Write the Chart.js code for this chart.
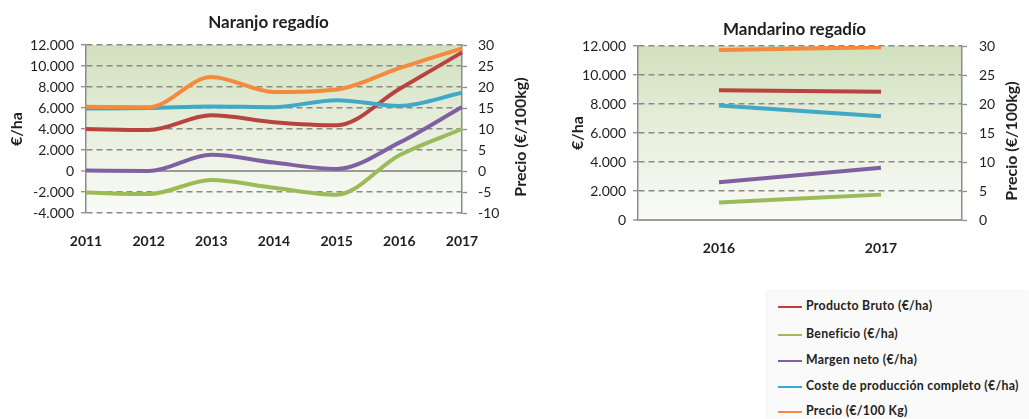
<!DOCTYPE html>
<html>
<head>
<meta charset="utf-8">
<script src="https://cdn.jsdelivr.net/npm/chart.js@4.4.1/dist/chart.umd.min.js"></script>
<style>
  html, body { margin: 0; padding: 0; background: #fff; width: 1029px; height: 419px; overflow: hidden; }
  #c1 { position: absolute; left: 0; top: 0; }
  #c2 { position: absolute; left: 540px; top: 0; }
  #legend {
    position: absolute; left: 768px; top: 292px; width: 261px; height: 127px;
    background: #fafafa; box-shadow: -1px -1px 3px rgba(0,0,0,0.07);
    font-family: Lato, sans-serif; font-weight: bold; font-size: 12.3px; letter-spacing: 0.3px; color: #222;
    overflow: hidden;
  }
  #legend .item { position: absolute; left: 10px; height: 16px; line-height: 16px; white-space: nowrap; }
  #legend .swatch { display: inline-block; width: 24px; height: 2px; vertical-align: middle; margin-right: 4px; }
</style>
</head>
<body>
<canvas id="c1" width="530" height="262"></canvas>
<canvas id="c2" width="489" height="270"></canvas>
<div id="legend"></div>
<script>
// Series names and colours (shared by both panels and the legend)
const seriesNames = [
  'Producto Bruto (€/ha)',
  'Beneficio (€/ha)',
  'Margen neto (€/ha)',
  'Coste de producción completo (€/ha)',
  'Precio (€/100 Kg)'
];
const seriesColors = ['#b8433f', '#9bbb59', '#7f61a3', '#3fa9c7', '#f58a3c'];

// Naranjo regadío
const naranjoYears     = ['2011', '2012', '2013', '2014', '2015', '2016', '2017'];
const naranjoProducto  = [4000, 3900, 5300, 4650, 4350, 7800, 11300];
const naranjoBeneficio = [-2050, -2200, -850, -1600, -2250, 1500, 4000];
const naranjoMargen    = [50, 0, 1550, 800, 200, 2700, 6100];
const naranjoCoste     = [5950, 6000, 6150, 6080, 6750, 6200, 7450];
const naranjoPrecio    = [15.3, 15.2, 22.4, 18.8, 19.4, 24.5, 29.2];

// Mandarino regadío
const mandarinoYears     = ['2016', '2017'];
const mandarinoProducto  = [8950, 8850];
const mandarinoBeneficio = [1200, 1750];
const mandarinoMargen    = [2600, 3600];
const mandarinoCoste     = [7900, 7150];
const mandarinoPrecio    = [29.3, 29.8];

const FONT = 'Lato';
const TEXT = '#1e1e1e';
const AXIS = '#8c8c8c';
const PRICE_TITLE = 'Precio (€/100kg)';

function thousands(v) {
  const s = Math.abs(v).toString().replace(/\B(?=(\d{3})+(?!\d))/g, '.');
  return (v < 0 ? '-' : '') + s;
}

// Green-to-white gradient behind the plot area
const plotBackground = {
  id: 'plotBackground',
  beforeDraw(chart) {
    const { ctx, chartArea: a } = chart;
    const g = ctx.createLinearGradient(0, a.top, 0, a.bottom);
    g.addColorStop(0, '#d1e0bd');
    g.addColorStop(0.5, '#e8efdd');
    g.addColorStop(1, '#fafbf7');
    ctx.save();
    ctx.fillStyle = g;
    ctx.fillRect(a.left, a.top, a.width, a.height);
    ctx.restore();
  }
};

// Right-axis title, written bottom-to-top along the secondary axis
const priceAxisTitle = {
  id: 'priceAxisTitle',
  afterDraw(chart) {
    const s = chart.scales.y1;
    const a = chart.chartArea;
    const ctx = chart.ctx;
    ctx.save();
    ctx.font = 'bold 16px ' + FONT;
    ctx.fillStyle = TEXT;
    ctx.textAlign = 'center';
    ctx.textBaseline = 'middle';
    ctx.translate(s.right - 9, (a.top + a.bottom) / 2 + 8);
    ctx.rotate(-Math.PI / 2);
    ctx.fillText(PRICE_TITLE, 0, 0);
    ctx.restore();
  }
};

function makePanel(canvas, p) {
  const values = [p.producto, p.beneficio, p.margen, p.coste, p.precio];
  const datasets = values.map((data, i) => ({
    label: seriesNames[i],
    data: data,
    yAxisID: i === 4 ? 'y1' : 'y',
    borderColor: seriesColors[i],
    backgroundColor: seriesColors[i],
    borderWidth: 4,
    pointRadius: 0,
    cubicInterpolationMode: 'monotone',
    fill: false,
    order: 5 - i
  }));

  return new Chart(canvas, {
    type: 'line',
    data: { labels: p.labels, datasets: datasets },
    plugins: [plotBackground, priceAxisTitle],
    options: {
      responsive: false,
      animation: false,
      events: [],
      layout: { padding: p.padding },
      plugins: {
        legend: { display: false },
        tooltip: { enabled: false },
        title: {
          display: true,
          text: p.title,
          color: TEXT,
          font: { family: FONT, size: 17, weight: 'bold' },
          padding: p.titlePadding
        }
      },
      scales: {
        x: {
          type: 'category',
          offset: p.offset,
          grid: { display: false, drawTicks: false },
          border: { display: false },
          ticks: {
            color: TEXT, padding: p.xPad, maxRotation: 0,
            font: { family: FONT, size: 14, weight: 'bold' }
          },
          afterFit: s => { s.height = p.xHeight; }
        },
        y: {
          position: 'left',
          min: p.yMin, max: p.yMax,
          ticks: {
            stepSize: 2000, color: TEXT, padding: 7,
            font: { family: FONT, size: 14 },
            callback: v => thousands(v)
          },
          grid: {
            color: ctx => (ctx.tick && ctx.tick.value === 0) ? '#9a9a9a' : '#8a8a8a',
            lineWidth: ctx => (ctx.tick && ctx.tick.value === 0) ? 2 : 1.4,
            drawTicks: true, tickLength: 5, tickColor: AXIS, tickWidth: 1.3,
            tickBorderDash: []
          },
          border: {
            display: true, color: AXIS, width: 1.5,
            dash: ctx => (ctx.tick && ctx.tick.value === 0) ? [] : [6, 4]
          },
          title: {
            display: true, text: '€/ha', color: TEXT,
            font: { family: FONT, size: 16, weight: 'bold' },
            padding: { top: 0, bottom: 0 }
          },
          afterFit: s => { s.width = p.yWidth; }
        },
        y1: {
          position: 'right',
          min: p.y1Min, max: p.y1Max,
          ticks: {
            stepSize: 5, color: TEXT, padding: p.y1Pad,
            font: { family: FONT, size: 14 }
          },
          grid: {
            drawOnChartArea: false, drawTicks: true, tickLength: 5,
            tickColor: AXIS, tickWidth: 1.3, color: AXIS
          },
          border: { display: true, color: AXIS, width: 1.5 },
          title: { display: false },
          afterFit: s => { s.width = p.y1Width; }
        }
      }
    }
  });
}

makePanel(document.getElementById('c1'), {
  title: 'Naranjo regadío',
  labels: naranjoYears,
  producto: naranjoProducto, beneficio: naranjoBeneficio, margen: naranjoMargen,
  coste: naranjoCoste, precio: naranjoPrecio,
  yMin: -4000, yMax: 12000, y1Min: -10, y1Max: 30,
  offset: false,
  padding: { left: 7, right: 0, top: 0, bottom: 0 },
  titlePadding: { top: 12, bottom: 12.6 },
  yWidth: 79, y1Width: 68, xHeight: 49, xPad: 20, y1Pad: 11
});

makePanel(document.getElementById('c2'), {
  title: 'Mandarino regadío',
  labels: mandarinoYears,
  producto: mandarinoProducto, beneficio: mandarinoBeneficio, margen: mandarinoMargen,
  coste: mandarinoCoste, precio: mandarinoPrecio,
  yMin: 0, yMax: 12000, y1Min: 0, y1Max: 30,
  offset: true,
  padding: { left: 28, right: 8, top: 0, bottom: 0 },
  titlePadding: { top: 19, bottom: 6.6 },
  yWidth: 70, y1Width: 59, xHeight: 50, xPad: 20, y1Pad: 12
});

// Legend box
const legend = document.getElementById('legend');
const legendRows = [14, 42, 68, 94, 119];
seriesNames.forEach((name, i) => {
  const row = document.createElement('div');
  row.className = 'item';
  row.style.top = (legendRows[i] - 8) + 'px';
  const sw = document.createElement('span');
  sw.className = 'swatch';
  sw.style.background = seriesColors[i];
  row.appendChild(sw);
  row.appendChild(document.createTextNode(name));
  legend.appendChild(row);
});
</script>
</body>
</html>
